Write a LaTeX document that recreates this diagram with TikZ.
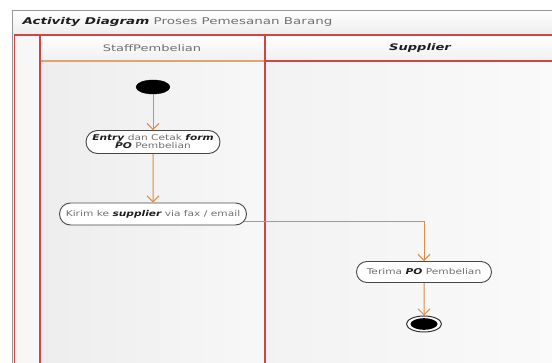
\documentclass[tikz,border=0pt]{standalone}
\usepackage{fontspec}
\usetikzlibrary{arrows.meta,shapes.misc,shapes.geometric}

% Wide sans faces for the swimlane diagram
\newfontfamily\titlefont[FakeStretch=1.45,
  ItalicFont={DejaVu Sans Oblique},
  BoldFont={DejaVu Sans Bold},
  BoldItalicFont={DejaVu Sans Bold Oblique}]{DejaVu Sans}
\newfontfamily\umlfont[FakeStretch=1.33,
  ItalicFont={DejaVu Sans Oblique},
  BoldFont={DejaVu Sans Bold},
  BoldItalicFont={DejaVu Sans Bold Oblique}]{DejaVu Sans}

\definecolor{lanered}{RGB}{208,68,68}
\definecolor{flow}{RGB}{222,140,66}
\definecolor{headline}{RGB}{222,166,110}
\definecolor{framegray}{RGB}{150,150,150}
\definecolor{txtgray}{RGB}{112,112,112}
\definecolor{txtdark}{RGB}{30,30,30}
\definecolor{lanebg}{RGB}{242,242,242}

\newcommand\kw[1]{{\color{txtdark}\bfseries\itshape #1}}

\tikzset{
  action/.style={rounded rectangle, draw=black!72, fill=white, line width=0.9pt,
    inner xsep=4pt, inner ysep=1pt, align=center, text=txtgray,
    font=\umlfont\fontsize{8}{9}\selectfont},
  initnode/.style={ellipse, fill=black, draw=black, minimum width=34pt,
    minimum height=14pt, inner sep=0pt},
  finalnode/.style={ellipse, fill=white, draw=black!80, line width=1pt,
    minimum width=35pt, minimum height=16pt, inner sep=0pt,
    path picture={\fill[black] (path picture bounding box.center)
      ellipse (13.5pt and 5.8pt);}},
  flowline/.style={draw=flow, line width=1pt,
    -{Straight Barb[length=6pt,width=12pt,line width=1pt]}},
  laneline/.style={draw=lanered, line width=1.2pt},
  headtext/.style={font=\titlefont\fontsize{9}{10}\selectfont, text=txtgray}
}

\begin{document}
\begin{tikzpicture}[x=1pt,y=-1pt]
\useasboundingbox (0,0) rectangle (552,363);
\fill[white] (0,0) rectangle (552,363);

% frame, title bar and lane backgrounds
\fill[lanebg] (12,10) rectangle (552,363);
\shade[top color=white, bottom color=black!7] (12,10) rectangle (552,35);
\fill[black!3] (14,35) rectangle (40,363);
\shade[left color=black!7, right color=black!3] (40,61) rectangle (265,363);
\shade[left color=black!5, right color=black!2] (265,61) rectangle (552,363);
\shade[top color=white, bottom color=black!6] (40,35) rectangle (265,61);
\shade[top color=white, bottom color=black!6] (265,35) rectangle (552,61);

\draw[draw=framegray, line width=1.5pt] (12.5,363) -- (12.5,10.5) -- (552,10.5);
\draw[laneline] (14.6,363) -- (14.6,35) -- (552,35);
\draw[laneline] (40,35) -- (40,363);
\draw[laneline] (265,35) -- (265,363);
\draw[laneline] (265,61) -- (552,61);
\draw[draw=headline, line width=1.2pt] (40.6,61) -- (264.4,61);

% titles
\node[headtext, anchor=west, font=\titlefont\fontsize{9.3}{10}\selectfont]
  (title) at (19,22) {\kw{Activity Diagram} Proses Pemesanan Barang};
\node[headtext] (lanestaff) at (152,48) {StaffPembelian};
\node[headtext] (lanesupp) at (420,48) {\kw{Supplier}};

% activity nodes
\node[initnode] (start) at (153,87) {};
\node[action, minimum width=142pt, minimum height=23pt] (a1) at (153,142)
  {\kw{Entry} dan Cetak \kw{form}\\[-1pt]\kw{PO} Pembelian};
\node[action, minimum width=195pt, minimum height=22pt] (a2) at (153,214)
  {Kirim ke \kw{supplier} via fax / email};
\node[action, minimum width=143pt, minimum height=21pt] (a3) at (424,272)
  {Terima \kw{PO} Pembelian};
\node[finalnode] (end) at (424,324) {};

% control flow
\draw[flowline] (start) -- (a1);
\draw[flowline] (a1) -- (a2);
\draw[flowline] (a2.-5) -| (a3);
\draw[flowline] (a3) -- (end);
\end{tikzpicture}
\end{document}
